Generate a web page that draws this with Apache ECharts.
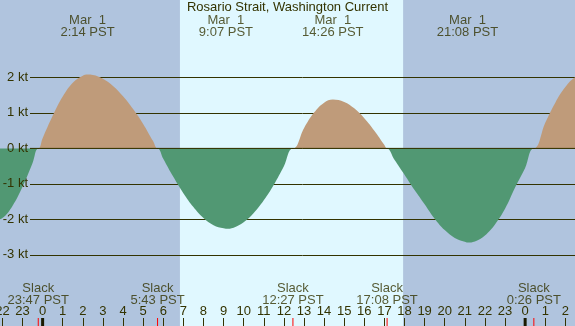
<!DOCTYPE html>
<html>
<head>
<meta charset="utf-8">
<script src="https://cdn.jsdelivr.net/npm/echarts@6.0.0/dist/echarts.min.js"></script>
<style>
html,body{margin:0;padding:0;background:#b0c4de;}
#chart{width:575px;height:326px;}
</style>
</head>
<body>
<div id="chart"></div>
<script>
// Current speed (kt) vs hour of Mar 1 (PST); negative = ebb
const hours = [-2.5,-2.0,-1.5,-1.0,-0.5,-0.217,0.0,0.5,1.0,1.5,2.0,2.233,2.5,3.0,3.5,4.0,4.5,5.0,5.5,5.717,
  6.0,6.5,7.0,7.5,8.0,8.5,9.0,9.117,9.5,10.0,10.5,11.0,11.5,12.0,12.45,13.0,13.5,14.0,14.433,15.0,15.5,16.0,16.5,17.0,17.133,
  17.5,18.0,18.5,19.0,19.5,20.0,20.5,21.0,21.133,21.5,22.0,22.5,23.0,23.5,24.0,24.433,25.0,25.5,26.0,26.5,27.0];
const speeds = [-2.05,-1.96,-1.62,-1.08,-0.41,0,0.29,0.92,1.46,1.85,2.05,2.08,2.07,1.96,1.76,1.47,1.11,0.69,0.20,0,
  -0.29,-0.80,-1.26,-1.65,-1.96,-2.16,-2.25,-2.26,-2.23,-2.08,-1.82,-1.46,-1.02,-0.50,0,0.57,1.01,1.29,1.38,1.31,1.13,0.85,0.50,0.10,0,
  -0.32,-0.74,-1.17,-1.57,-1.98,-2.30,-2.52,-2.63,-2.65,-2.62,-2.45,-2.14,-1.70,-1.10,-0.55,0,0.72,1.29,1.73,2.01,2.10];

const slackHours = [-0.217, 5.717, 12.45, 17.133, 24.433];
const slackTimes = ['23:47 PST','5:43 PST','12:27 PST','17:08 PST','0:26 PST'];
const maxHours = [2.233, 9.117, 14.433, 21.133, 26.983];
const maxDates = ['Mar  1','Mar  1','Mar  1','Mar  1','Mar  2'];
const maxTimes = ['2:14 PST','9:07 PST','14:26 PST','21:08 PST','2:59 PST'];
const midnightHours = [0, 24];
const tickHours = [-2,-1,0,1,2,3,4,5,6,7,8,9,10,11,12,13,14,15,16,17,18,19,20,21,22,23,24,25,26];
const sunrise = 6.83, sunset = 17.93;
const titleText = 'Rosario Strait, Washington Current';

const TXT = '#333300';
const FONT = 'Liberation Sans';
const X_MIN = -2.12, X_MAX = 26.48;

function tickItem(color, width) {
  return function (params, api) {
    const p1 = api.coord([api.value(0), 318]);
    const p2 = api.coord([api.value(0), 326]);
    return {type:'line', shape:{x1:p1[0], y1:p1[1], x2:p2[0], y2:p2[1]},
      style:{stroke:color, lineWidth:width}};
  };
}

const floodData = hours.map((h,i)=>[h, Math.max(0, speeds[i])]);
const ebbData = hours.map((h,i)=>[h, Math.min(0, speeds[i])]);

const chart = echarts.init(document.getElementById('chart'), null, {renderer:'canvas'});
chart.setOption({
  animation:false,
  backgroundColor:'#b0c4de',
  textStyle:{fontFamily:FONT},
  title:{text:titleText,left:'center',top:1,padding:0,
    textStyle:{fontSize:13,fontWeight:'normal',color:TXT,fontFamily:FONT}},
  grid:[
    {left:0,right:0,top:0,bottom:0,containLabel:false,outerBoundsMode:'none'},
    {left:30,right:0,top:77.4,bottom:71.1,containLabel:false,outerBoundsMode:'none'}
  ],
  xAxis:[
    {type:'value',gridIndex:0,min:X_MIN,max:X_MAX,z:1,position:'bottom',
      axisLine:{show:false,onZero:false},splitLine:{show:false},
      axisTick:{show:true,inside:true,length:8,customValues:tickHours,lineStyle:{color:TXT,width:1}},
      axisLabel:{show:true,inside:true,margin:8,customValues:tickHours,color:TXT,fontSize:13,fontFamily:FONT,
        formatter:v=>String(((Math.round(v)%24)+24)%24)}},
    {type:'value',gridIndex:1,min:0,max:1,show:false,axisLine:{onZero:false}}
  ],
  yAxis:[
    {type:'value',gridIndex:0,min:-5,max:4.18,show:false,axisLine:{onZero:false}},
    {type:'value',gridIndex:0,min:0,max:326,inverse:true,show:false,axisLine:{onZero:false}},
    // labels, drawn above the fill
    {type:'value',gridIndex:1,min:-3,max:2,interval:1,z:6,
      axisLine:{show:false,onZero:false},axisTick:{show:false},splitLine:{show:false},
      axisLabel:{margin:2,color:TXT,fontSize:13,fontFamily:FONT,formatter:v=>v+' kt'}},
    // grid lines, drawn below the fill
    {type:'value',gridIndex:1,min:-3,max:2,interval:1,z:1,position:'left',
      axisLine:{show:false,onZero:false},axisTick:{show:false},axisLabel:{show:false},
      splitLine:{show:true,lineStyle:{color:TXT,width:1}}}
  ],
  series:[
    {type:'line',name:'flood',xAxisIndex:0,yAxisIndex:0,z:2,
      data:floodData,smooth:0.4,showSymbol:false,symbol:'none',
      lineStyle:{width:0},itemStyle:{color:'#bf9b7a'},
      areaStyle:{opacity:1,color:'#bf9b7a'},
      markArea:{silent:true,z:0,itemStyle:{color:'#e0f8ff'},
        data:[[{xAxis:sunrise},{xAxis:sunset}]]}
    },
    {type:'line',name:'ebb',xAxisIndex:0,yAxisIndex:0,z:2,
      data:ebbData,smooth:0.4,showSymbol:false,symbol:'none',
      lineStyle:{width:0},itemStyle:{color:'#519873'},
      areaStyle:{opacity:1,color:'#519873'}
    },
    {type:'custom',xAxisIndex:1,yAxisIndex:3,z:3,data:[[0,0]],
      renderItem:function(params, api){
        const p1 = api.coord([0,0]), p2 = api.coord([1,0]);
        return {type:'line', shape:{x1:p1[0],y1:p1[1],x2:p2[0],y2:p2[1]},
          style:{stroke:TXT,lineWidth:1}};
      }},
    {type:'custom',xAxisIndex:0,yAxisIndex:1,z:4,data:slackHours.map(h=>[h]),
      renderItem:tickItem('#ff0000',1)},
    {type:'custom',xAxisIndex:0,yAxisIndex:1,z:4,data:midnightHours.map(h=>[h]),
      renderItem:tickItem('#1a1a00',3)},
    {type:'scatter',xAxisIndex:0,yAxisIndex:1,z:5,symbolSize:0,
      data:maxHours.map(h=>[h,26]),
      label:{show:true,position:'inside',color:TXT,fontSize:13,lineHeight:12,fontFamily:FONT,
        formatter:p=>maxDates[p.dataIndex]+'\n'+maxTimes[p.dataIndex]}},
    {type:'scatter',xAxisIndex:0,yAxisIndex:1,z:5,symbolSize:0,
      data:slackHours.map(h=>[h,294]),
      label:{show:true,position:'inside',color:TXT,fontSize:13,lineHeight:12,fontFamily:FONT,
        formatter:p=>'Slack\n'+slackTimes[p.dataIndex]}}
  ]
});
</script>
</body>
</html>
